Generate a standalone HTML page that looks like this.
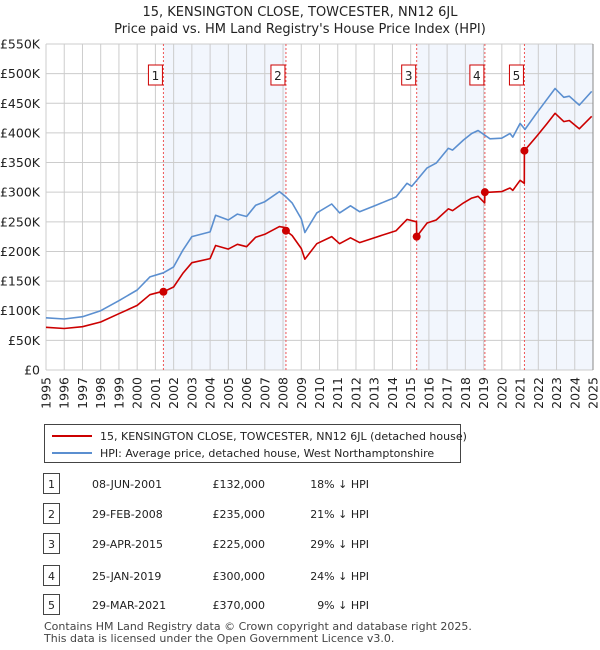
<!DOCTYPE html>
<html><head><meta charset="utf-8"><style>
body{margin:0;background:#fff;font-family:"Liberation Sans",sans-serif;}
#wrap{position:relative;width:600px;height:650px;overflow:hidden}
svg text{font-family:"DejaVu Sans","Liberation Sans",sans-serif}
</style></head><body><div id="wrap">
<svg id="c" width="600" height="650" xmlns="http://www.w3.org/2000/svg"></svg>
</div>
<script>
const yearTicks=[1995,1996,1997,1998,1999,2000,2001,2002,2003,2004,2005,2006,2007,2008,2009,2010,2011,2012,2013,2014,2015,2016,2017,2018,2019,2020,2021,2022,2023,2024,2025];
const valueTicks=[0,50000,100000,150000,200000,250000,300000,350000,400000,450000,500000,550000];
const valueLabels=["£0","£50K","£100K","£150K","£200K","£250K","£300K","£350K","£400K","£450K","£500K","£550K"];
const hpiYears=[1995,1996,1997,1998,1999,2000,2000.7,2001.44,2002,2002.5,2003,2004,2004.3,2005,2005.5,2006,2006.5,2007,2007.8,2008.16,2008.5,2009,2009.2,2009.85,2010.67,2011.1,2011.7,2012.2,2013.1,2013.9,2014.2,2014.8,2015.06,2015.9,2016.4,2017.07,2017.3,2017.9,2018.35,2018.7,2019.35,2019.99,2020.45,2020.6,2021,2021.27,2021.9,2022.46,2022.92,2023.4,2023.7,2024.25,2024.93];
const hpiValues=[88,86,90,100,117,135,157,164,174,202,225,233,261,253,263,259,278,284,301,292,282,255,232,265,280,265,277,267,278,288,292,315,310,341,349,374,371,388,399,404,390,391,399,393,416,406,433,456,475,460,462,447,470];
const priceYears=[1995,1996,1997,1998,1999,2000,2000.7,2001.43,2001.44,2002,2002.5,2003,2004,2004.3,2005,2005.5,2006,2006.5,2007,2007.8,2008.15,2008.16,2008.5,2009,2009.2,2009.85,2010.67,2011.1,2011.7,2012.2,2013.1,2013.9,2014.2,2014.8,2015.32,2015.33,2015.9,2016.4,2017.07,2017.3,2017.9,2018.35,2018.7,2019.06,2019.07,2019.35,2019.99,2020.45,2020.6,2021,2021.23,2021.24,2021.9,2022.46,2022.92,2023.4,2023.7,2024.25,2024.93];
const priceValues=[72,70,73,81,95,109,127,133,132,140,163,181,188,210,204,212,208,224,229,242,240,235,227,205,187,213,225,213,223,215,224,232,235,254,250,225,248,253,272,269,282,290,293,282,300,300,301,307,303,320,315,370,394,415,433,419,421,407,428];
const saleLabels=["1","2","3","4","5"];
const saleYears=[2001.44,2008.16,2015.33,2019.07,2021.24];
const salePrices=[132000,235000,225000,300000,370000];
const saleDates=["08-JUN-2001","29-FEB-2008","29-APR-2015","25-JAN-2019","29-MAR-2021"];
const salePriceText=["£132,000","£235,000","£225,000","£300,000","£370,000"];
const saleHpiText=["18% ↓ HPI","21% ↓ HPI","29% ↓ HPI","24% ↓ HPI","9% ↓ HPI"];

const NS="http://www.w3.org/2000/svg";
const svg=document.getElementById('c');
const X0=46,X1=593,Y0=370,Y1=44;
const xs=y=>X0+(y-1995)/30*(X1-X0);
const ys=v=>Y0-v/550000*(Y0-Y1);
function el(t,a,p){const e=document.createElementNS(NS,t);for(const k in a)e.setAttribute(k,a[k]);(p||svg).appendChild(e);return e;}
function tx(x,y,s,a){const e=el('text',Object.assign({x:x,y:y,'font-size':12,fill:'#222'},a||{}));e.textContent=s;return e;}

let t=tx(300,16,"15, KENSINGTON CLOSE, TOWCESTER, NN12 6JL",{'text-anchor':'middle','font-size':13});


t=tx(300,33,"Price paid vs. HM Land Registry's House Price Index (HPI)",{'text-anchor':'middle','font-size':13});



for(let i=0;i<saleYears.length;i+=2){
  const a=saleYears[i],b=i+1<saleYears.length?saleYears[i+1]:2025;
  const r=el('rect',{x:xs(a),y:Y1,width:xs(b)-xs(a),height:Y0-Y1,fill:'#edf2fc',opacity:0.7});
  
  
}
yearTicks.forEach(y=>{const l=el('line',{x1:xs(y),x2:xs(y),y1:Y1,y2:Y0,stroke:'#cccccc'});
  
  
  const x=xs(y)+4.5;
  const lb=tx(x,377,String(y),{'text-anchor':'end','font-size':12.5,transform:'rotate(-90 '+x+' 377)'});
  
  });
valueTicks.forEach((v,i)=>{const l=el('line',{x1:X0,x2:X1,y1:ys(v),y2:ys(v),stroke:'#cccccc'});
  
  
  const lb=tx(40,ys(v)+4.5,valueLabels[i],{'text-anchor':'end','font-size':12.5});
  
  });
saleYears.forEach((y,i)=>{
  const l=el('line',{x1:xs(y),x2:xs(y),y1:Y1,y2:Y0,stroke:'#e55','stroke-dasharray':'2,2','stroke-width':1});
  
  
  const r=el('rect',{x:xs(y)-15,y:65,width:14,height:20,fill:'#fff',stroke:'#c00'});
  
  
  const lb=tx(xs(y)-8,80,saleLabels[i],{'text-anchor':'middle','font-size':12});
  
  
});
function path(xa,va,scale,col,name){
  const d=xa.map((x,i)=>(i?'L':'M')+xs(x).toFixed(1)+','+ys(va[i]*scale).toFixed(1)).join('');
  const p=el('path',{d:d,fill:'none',stroke:col,'stroke-width':1.6,'stroke-linejoin':'round'});
  
  
}
path(hpiYears,hpiValues,1000,'#5b8fd0','hpi-line');
path(priceYears,priceValues,1000,'#cc0000','price-paid-line');
saleYears.forEach((y,i)=>{const c=el('circle',{cx:xs(y),cy:ys(salePrices[i]),r:4,fill:'#cc0000'});
  
  });
el('line',{x1:X1,x2:X1,y1:Y1,y2:Y0,stroke:'#888'});

const lg=el('g',{});


el('rect',{x:44.5,y:424.5,width:416,height:38,fill:'#fff',stroke:'#444'},lg);
el('line',{x1:52,x2:92,y1:436,y2:436,stroke:'#cc0000','stroke-width':2},lg);
el('line',{x1:52,x2:92,y1:453,y2:453,stroke:'#5b8fd0','stroke-width':2},lg);
t=tx(100,440,"15, KENSINGTON CLOSE, TOWCESTER, NN12 6JL (detached house)",{'font-size':11});lg.appendChild(t);


t=tx(100,457,"HPI: Average price, detached house, West Northamptonshire",{'font-size':11});lg.appendChild(t);



const rowY=[484,514,544,576,605];
saleLabels.forEach((s,i)=>{
  const y=rowY[i];
  const b=el('rect',{x:43.5,y:y-10.5,width:16,height:20,fill:'#fff',stroke:'#444'});
  
  
  let e=tx(51.5,y+4,s,{'text-anchor':'middle','font-size':11});
  
  
  e=tx(92,y+4,saleDates[i],{'font-size':11});
  
  
  e=tx(265,y+4,salePriceText[i],{'text-anchor':'end','font-size':11});
  
  
  e=tx(369,y+4,saleHpiText[i],{'text-anchor':'end','font-size':11});
  
  
});
t=tx(44,630,"Contains HM Land Registry data © Crown copyright and database right 2025.",{'font-size':11,fill:'#444'});


t=tx(44,642,"This data is licensed under the Open Government Licence v3.0.",{'font-size':11,fill:'#444'});


</script></body></html>
